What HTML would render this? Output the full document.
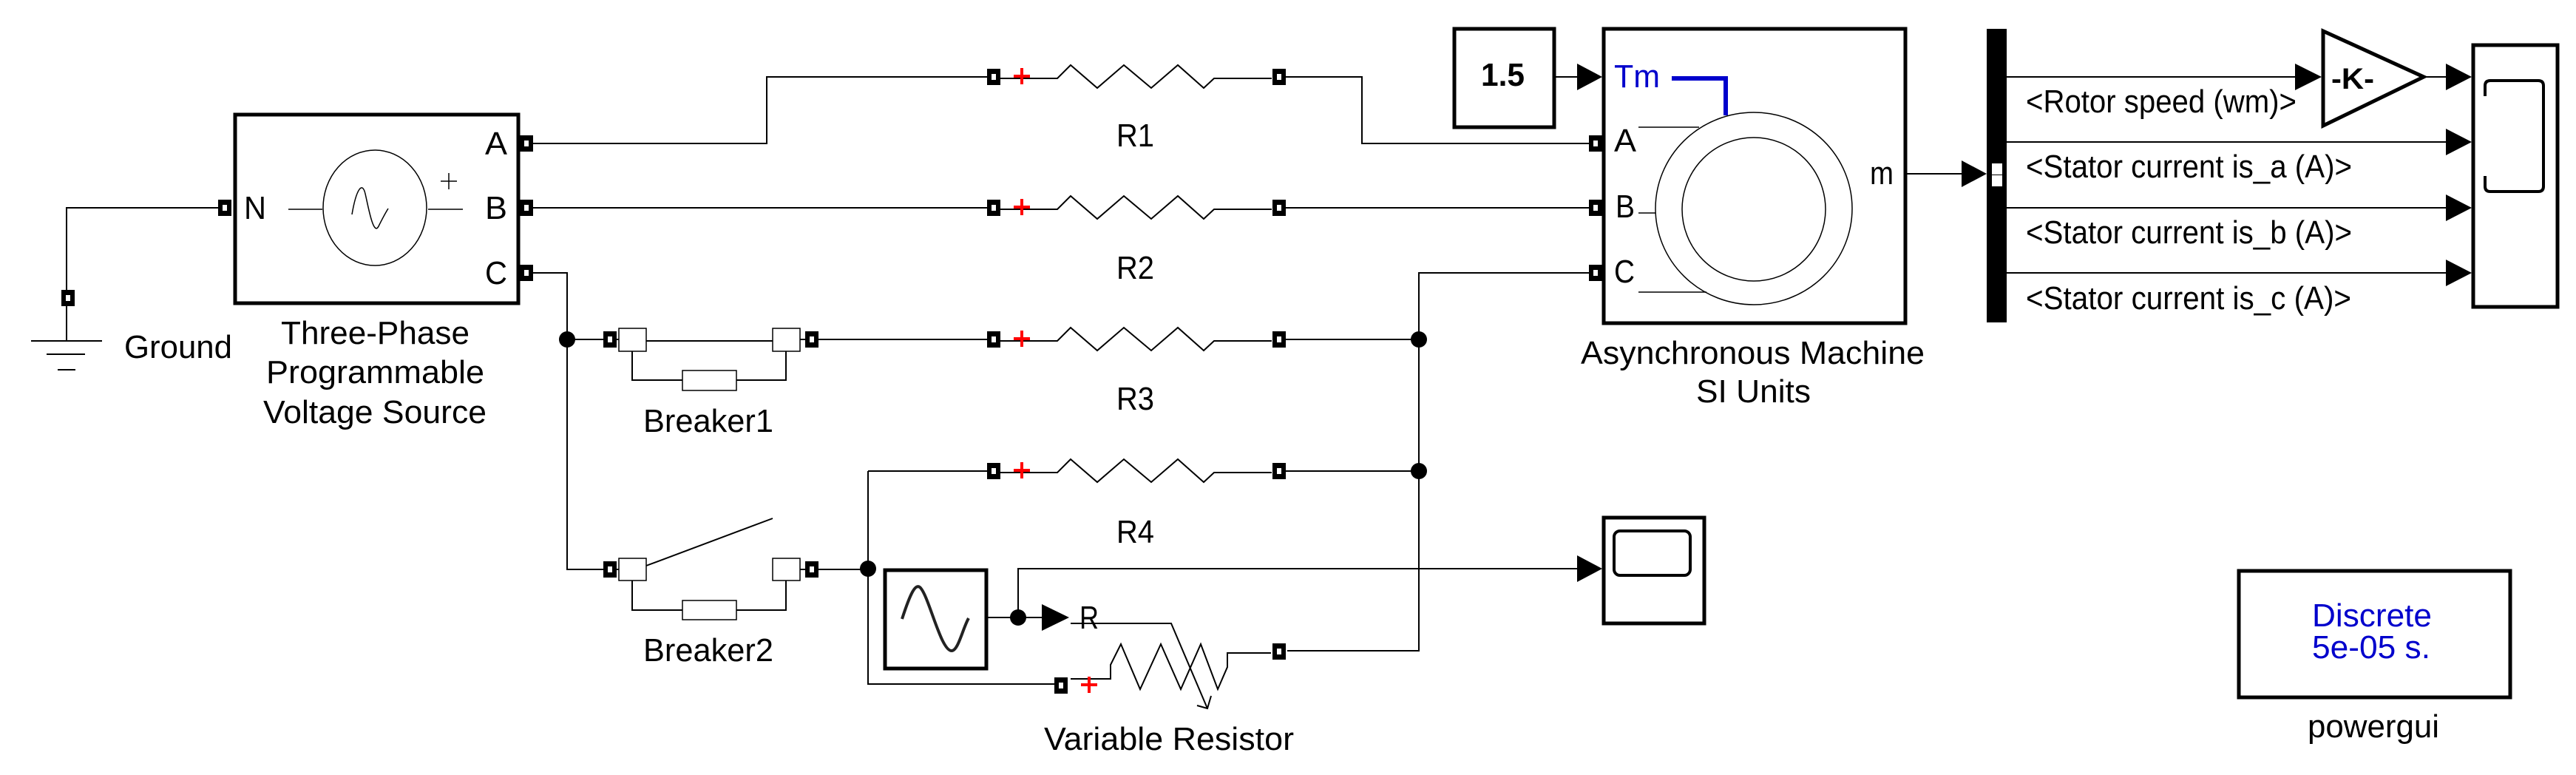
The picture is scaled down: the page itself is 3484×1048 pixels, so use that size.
<!DOCTYPE html>
<html><head><meta charset="utf-8"><style>
html,body{margin:0;padding:0;background:#fff;}
svg{display:block;}
text{font-family:"Liberation Sans",Arial,sans-serif;fill:#000;}
</style></head><body>
<svg width="3484" height="1048" viewBox="0 0 3484 1048" xmlns="http://www.w3.org/2000/svg">
<defs>
<g id="port"><rect x="-9" y="-11" width="18" height="22" fill="#000"/><rect x="-3" y="-4" width="6" height="8" fill="#fff"/></g>
<g id="plus"><path d="M-11 0H11M0 -11V11" stroke="#f00" stroke-width="4"/></g>
</defs>
<g fill="none" stroke="#000" stroke-width="2">
<path d="M295 281H90V395"/>
<path d="M90 411V461M42 461H138M63 479H115M78 500H102"/>
<path d="M721 194H1037V104H1335"/>
<path d="M721 281H1335"/>
<path d="M721 369H767V770H816"/>
<path d="M767 459H816"/>
<path d="M834 459H837M874 461H1045M1082 459H1089"/>
<path d="M855 475V514H923M996 514H1063V475"/>
<path d="M834 770H837M1082 770H1089M874 765L1045 701"/>
<path d="M855 785V825H923M996 825H1063V785"/>
<path d="M1106 459H1335"/>
<path d="M1106 770H1174"/>
<path d="M1174 637V925H1426"/>
<path d="M1174 637H1335"/>
<path d="M1353 106H1430L1448 88L1484 119L1520 88L1557 119L1593 88L1628 119L1642 106H1720"/>
<path d="M1353 283H1430L1448 265L1484 296L1520 265L1557 296L1593 265L1628 296L1642 283H1720"/>
<path d="M1353 461H1430L1448 443L1484 474L1520 443L1557 474L1593 443L1628 474L1642 461H1720"/>
<path d="M1353 639H1430L1448 621L1484 652L1520 621L1557 652L1593 621L1628 652L1642 639H1720"/>
<path d="M1739 104H1842V194H2149"/>
<path d="M1739 281H2149"/>
<path d="M1739 459H1919M1739 637H1919"/>
<path d="M2149 369H1919V880H1741"/>
<path d="M1448 918H1502V899L1516 871L1542 932L1570 871L1597 932L1624 871L1647 932L1660 902V883H1719"/>
<path d="M1448 843H1584L1633 958M1619 954L1633 958L1638 941"/>
<path d="M1334 835H1409M1377 835V769H2133"/>
<path d="M2102 104H2133"/>
<path d="M2577 235H2653"/>
<path d="M2713 104H3104M2713 192H3308M2713 281H3308M2713 369H3308M3280 104H3308"/>
</g>
<g fill="#fff" stroke="#000" stroke-width="5">
<rect x="318" y="155" width="383" height="255"/>
<rect x="1967" y="39" width="135" height="133"/>
<rect x="2169" y="39" width="408" height="398"/>
<rect x="1197" y="771" width="137" height="133"/>
<rect x="2169" y="700" width="136" height="143"/>
<rect x="3345" y="61" width="114" height="354"/>
<rect x="3028" y="772" width="367" height="171"/>
<polygon points="3142,42 3142,170 3278,104"/>
</g>
<g fill="none" stroke="#000" stroke-width="1.5">
<path d="M2216 172H2298M2216 288H2239M2216 395H2308"/>
<ellipse cx="2372" cy="282" rx="133" ry="130"/>
<ellipse cx="2372" cy="283" rx="97" ry="97"/>
<ellipse cx="507" cy="281" rx="70" ry="78"/>
<path d="M390 283H436M579 283H626M596 245H618M607 234V256"/>
<path d="M476 290C482 255 490 245 494 262S505 320 512 306S520 290 525 282"/>
</g>
<path d="M2261 106H2334V156" fill="none" stroke="#0000cc" stroke-width="6"/>
<rect x="2687" y="39" width="27" height="397" fill="#000"/>
<rect x="2694" y="221" width="14" height="15" fill="#fff"/><rect x="2694" y="237" width="14" height="15" fill="#fff"/>
<g fill="#fff" stroke="#000" stroke-width="1.5">
<rect x="837" y="444" width="37" height="31"/><rect x="1045" y="444" width="37" height="31"/>
<rect x="923" y="501" width="73" height="27"/>
<rect x="837" y="755" width="37" height="30"/><rect x="1045" y="755" width="37" height="30"/>
<rect x="923" y="812" width="73" height="26"/>
</g>
<rect x="2183" y="718" width="103" height="60" rx="8" fill="none" stroke="#000" stroke-width="4"/>
<path d="M3361 130V116Q3361 109 3368 109H3433Q3440 109 3440 116V252Q3440 259 3433 259H3368Q3361 259 3361 252V238" fill="none" stroke="#000" stroke-width="4"/>
<path d="M1220 837C1232 800 1238 790 1244 794C1256 804 1272 880 1287 880C1296 880 1302 850 1310 836" fill="none" stroke="#222" stroke-width="4"/>
<g fill="#000"><circle cx="767" cy="459" r="11"/><circle cx="1174" cy="769" r="11"/><circle cx="1919" cy="459" r="11"/><circle cx="1919" cy="637" r="11"/><circle cx="1377" cy="835" r="11"/></g>
<g fill="#000">
<polygon points="2133,86 2167,104 2133,122"/>
<polygon points="2133,751 2167,769 2133,787"/>
<polygon points="2653,217 2687,235 2653,253"/>
<polygon points="3104,86 3140,104 3104,122"/>
<polygon points="3308,86 3343,104 3308,122"/>
<polygon points="3308,174 3343,192 3308,210"/>
<polygon points="3308,263 3343,281 3308,299"/>
<polygon points="3308,351 3343,369 3308,387"/>
<polygon points="1409,817 1446,835 1409,853"/>
</g>
<use href="#port" x="712" y="194"/><use href="#port" x="712" y="281"/><use href="#port" x="712" y="369"/>
<use href="#port" x="304" y="281"/><use href="#port" x="92" y="403"/>
<use href="#port" x="825" y="459"/><use href="#port" x="1098" y="459"/>
<use href="#port" x="825" y="770"/><use href="#port" x="1098" y="770"/>
<use href="#port" x="1344" y="104"/><use href="#port" x="1730" y="104"/>
<use href="#port" x="1344" y="281"/><use href="#port" x="1730" y="281"/>
<use href="#port" x="1344" y="459"/><use href="#port" x="1730" y="459"/>
<use href="#port" x="1344" y="637"/><use href="#port" x="1730" y="637"/>
<use href="#port" x="1435" y="927"/><use href="#port" x="1730" y="881"/>
<use href="#port" x="2158" y="194"/><use href="#port" x="2158" y="281"/><use href="#port" x="2158" y="369"/>
<use href="#plus" x="1382" y="103"/><use href="#plus" x="1382" y="280"/><use href="#plus" x="1382" y="458"/><use href="#plus" x="1382" y="636"/><use href="#plus" x="1473" y="926"/>
<g font-size="44">
<text x="656" y="209" textLength="30" lengthAdjust="spacingAndGlyphs">A</text>
<text x="656" y="296" textLength="30" lengthAdjust="spacingAndGlyphs">B</text>
<text x="656" y="384" textLength="30" lengthAdjust="spacingAndGlyphs">C</text>
<text x="330" y="296" textLength="30" lengthAdjust="spacingAndGlyphs">N</text>
<text x="168" y="484" textLength="146" lengthAdjust="spacingAndGlyphs">Ground</text>
<text x="380" y="465" textLength="255" lengthAdjust="spacingAndGlyphs">Three-Phase</text>
<text x="360" y="518" textLength="295" lengthAdjust="spacingAndGlyphs">Programmable</text>
<text x="356" y="572" textLength="302" lengthAdjust="spacingAndGlyphs">Voltage Source</text>
<text x="870" y="584" textLength="176" lengthAdjust="spacingAndGlyphs">Breaker1</text>
<text x="870" y="894" textLength="176" lengthAdjust="spacingAndGlyphs">Breaker2</text>
<text x="1510" y="198" textLength="51" lengthAdjust="spacingAndGlyphs">R1</text>
<text x="1510" y="377" textLength="51" lengthAdjust="spacingAndGlyphs">R2</text>
<text x="1510" y="554" textLength="51" lengthAdjust="spacingAndGlyphs">R3</text>
<text x="1510" y="734" textLength="51" lengthAdjust="spacingAndGlyphs">R4</text>
<text x="1460" y="850" textLength="26" lengthAdjust="spacingAndGlyphs">R</text>
<text x="1412" y="1014" textLength="338" lengthAdjust="spacingAndGlyphs">Variable Resistor</text>
<text x="2183" y="205" textLength="30" lengthAdjust="spacingAndGlyphs">A</text>
<text x="2185" y="294" textLength="26" lengthAdjust="spacingAndGlyphs">B</text>
<text x="2183" y="382" textLength="28" lengthAdjust="spacingAndGlyphs">C</text>
<text x="2529" y="249" textLength="32" lengthAdjust="spacingAndGlyphs">m</text>
<text x="2183" y="118" style="fill:#0000cc" textLength="62" lengthAdjust="spacingAndGlyphs">Tm</text>
<text x="2138" y="492" textLength="465" lengthAdjust="spacingAndGlyphs">Asynchronous Machine</text>
<text x="2294" y="544" textLength="155" lengthAdjust="spacingAndGlyphs">SI Units</text>
<text x="2740" y="152" textLength="366" lengthAdjust="spacingAndGlyphs">&lt;Rotor speed (wm)&gt;</text>
<text x="2740" y="240" textLength="441" lengthAdjust="spacingAndGlyphs">&lt;Stator current is_a (A)&gt;</text>
<text x="2740" y="329" textLength="441" lengthAdjust="spacingAndGlyphs">&lt;Stator current is_b (A)&gt;</text>
<text x="2740" y="418" textLength="440" lengthAdjust="spacingAndGlyphs">&lt;Stator current is_c (A)&gt;</text>
<text x="3127" y="847" style="fill:#0000cc" textLength="162" lengthAdjust="spacingAndGlyphs">Discrete</text>
<text x="3127" y="890" style="fill:#0000cc" textLength="160" lengthAdjust="spacingAndGlyphs">5e-05 s.</text>
<text x="3121" y="997" textLength="178" lengthAdjust="spacingAndGlyphs">powergui</text>
<text x="2003" y="116" font-weight="bold" textLength="59" lengthAdjust="spacingAndGlyphs">1.5</text>
<text x="3153" y="120" font-weight="bold" font-size="40" textLength="58" lengthAdjust="spacingAndGlyphs">-K-</text>
</g>
</svg>
</body></html>
